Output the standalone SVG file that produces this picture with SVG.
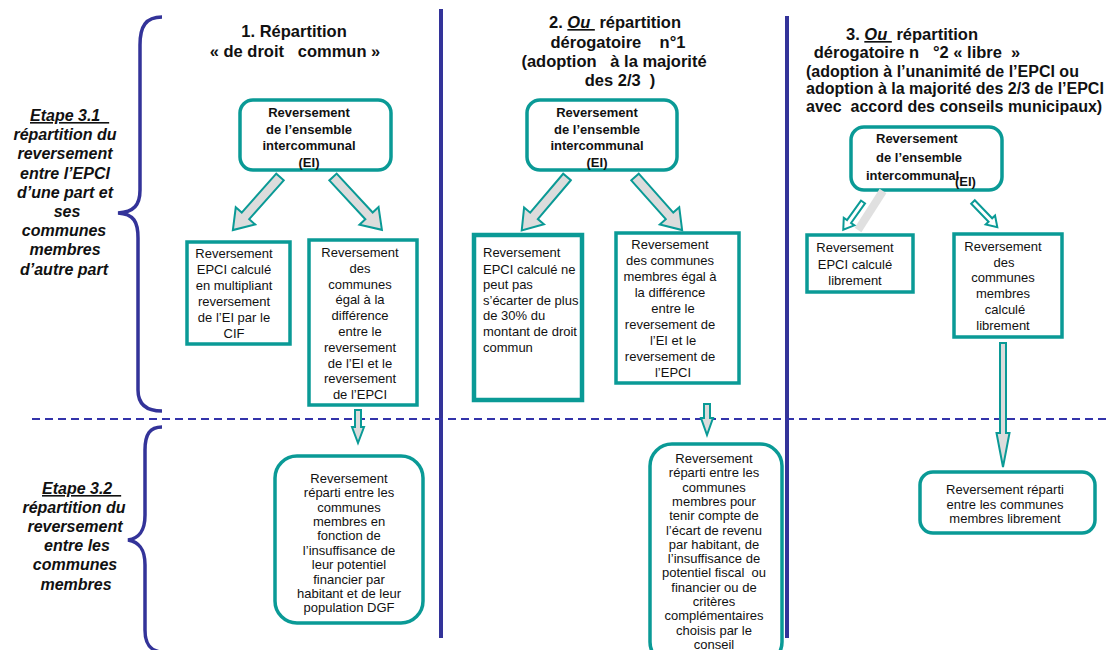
<svg xmlns="http://www.w3.org/2000/svg" width="1106" height="650" viewBox="0 0 1106 650">
<style>
text{font-family:"Liberation Sans",Arial,sans-serif;fill:#111;white-space:pre}
.title{font-size:16.5px;font-weight:bold;text-anchor:middle}
.title3{font-size:16px;font-weight:bold}
.etape{font-size:16px;font-weight:bold;font-style:italic;text-anchor:middle}
.bold13{font-size:13px;font-weight:bold;text-anchor:middle}
.reg13{font-size:13px;text-anchor:middle}
.reg13l{font-size:13px}
.box{fill:#fff;stroke:#0a9a96;stroke-width:3.5}
.rbox{fill:#fff;stroke:#0a9a96;stroke-width:3.5}
.barrow{fill:#dcdcdc;stroke:#0a9a96;stroke-width:2;stroke-linejoin:miter}
.oarrow{fill:#fff;stroke:#0a9a96;stroke-width:2}
.brace{fill:none;stroke:#333399;stroke-width:3.5}
.vline{stroke:#333399;stroke-width:4}
.dash{stroke:#3333aa;stroke-width:2;stroke-dasharray:8,5}
</style>

<g id="separators">
<line class="vline" x1="441" y1="9" x2="441" y2="638"/>
<line class="vline" x1="787" y1="16" x2="787" y2="638"/>
<line class="dash" x1="32" y1="419" x2="1106" y2="419"/>
<path class="brace" d="M162,17 C146,17 140,26 140,45 L140,190 C140,205 134,212 118,213 C134,214 138,222 138,238 L138,390 C138,404 146,411 162,411"/>
<path class="brace" d="M162,427 C150,427 145,434 145,450 L145,515 C145,530 140,538 128,540 C140,542 145,550 145,565 L145,630 C145,644 150,650 160,652"/>
</g>

<g id="label-etape31">
<text class="etape" x="30" y="121" style="text-anchor:start;text-decoration:underline" xml:space="preserve">Etape 3.1  </text>
<text class="etape" x="65" y="140.2">répartition du</text>
<text class="etape" x="65" y="159.4">reversement</text>
<text class="etape" x="65" y="178.6">entre l’EPCI</text>
<text class="etape" x="65" y="197.8">d’une part et</text>
<text class="etape" x="67" y="217">ses</text>
<text class="etape" x="64" y="236.2">communes</text>
<text class="etape" x="65" y="255.4">membres</text>
<text class="etape" x="64" y="274.6">d’autre part</text>
</g>

<g id="label-etape32">
<text class="etape" x="42" y="494" style="text-anchor:start;text-decoration:underline" xml:space="preserve">Etape 3.2  </text>
<text class="etape" x="74" y="513">répartition du</text>
<text class="etape" x="75" y="532">reversement</text>
<text class="etape" x="77" y="551">entre les</text>
<text class="etape" x="75" y="570">communes</text>
<text class="etape" x="76" y="590">membres</text>
</g>

<g id="title-1">
<text class="title" x="294" y="37">1. Répartition</text>
<text class="title" x="295" y="57" xml:space="preserve">« de droit   commun »</text>
</g>

<g id="title-2">
<text class="title" x="615" y="28">2. <tspan font-style="italic" text-decoration="underline">Ou </tspan> répartition</text>
<text class="title" x="618" y="48" xml:space="preserve">dérogatoire    n°1</text>
<text class="title" x="614" y="67" xml:space="preserve">(adoption   à la majorité</text>
<text class="title" x="620" y="86" xml:space="preserve">des 2/3  )</text>
</g>

<g id="title-3">
<text class="title" x="912" y="40">3. <tspan font-style="italic" text-decoration="underline">Ou </tspan> répartition</text>
<text class="title" x="917" y="58" xml:space="preserve">dérogatoire n   °2 « libre  »</text>
<text class="title3" x="806" y="77">(adoption à l’unanimité de l’EPCI ou</text>
<text class="title3" x="806" y="94">adoption à la majorité des 2/3 de l’EPCI</text>
<text class="title3" x="806" y="112" xml:space="preserve">avec  accord des conseils municipaux)</text>
</g>

<g id="node-ei-1">
<rect class="rbox" x="240" y="100" width="151" height="70" rx="13"/>
<text class="bold13" x="309" y="117">Reversement</text>
<text class="bold13" x="309" y="133.5">de l’ensemble</text>
<text class="bold13" x="309" y="150">intercommunal</text>
<text class="bold13" x="309" y="167">(EI)</text>
</g>

<g id="node-epci-1">
<rect class="box" x="187" y="242" width="103" height="102"/>
<text class="reg13" x="234" y="258">Reversement</text>
<text class="reg13" x="234" y="274">EPCI calculé</text>
<text class="reg13" x="234" y="290">en multipliant</text>
<text class="reg13" x="234" y="306">reversement</text>
<text class="reg13" x="234" y="322">de l’EI par le</text>
<text class="reg13" x="234" y="338">CIF</text>
</g>

<g id="node-communes-1">
<rect class="box" x="309" y="240" width="108" height="165"/>
<text class="reg13" x="360" y="257">Reversement</text>
<text class="reg13" x="360" y="272.8">des</text>
<text class="reg13" x="360" y="288.6">communes</text>
<text class="reg13" x="360" y="304.4">égal à la</text>
<text class="reg13" x="360" y="320.2">différence</text>
<text class="reg13" x="360" y="336">entre le</text>
<text class="reg13" x="360" y="351.8">reversement</text>
<text class="reg13" x="360" y="367.6">de l’EI et le</text>
<text class="reg13" x="360" y="383.4">reversement</text>
<text class="reg13" x="360" y="399.2">de l’EPCI</text>
</g>

<g id="node-repartition-1">
<rect class="rbox" x="275" y="456" width="148" height="167" rx="22"/>
<text class="reg13" x="349" y="482.7">Reversement</text>
<text class="reg13" x="349" y="497.1">réparti entre les</text>
<text class="reg13" x="349" y="511.5">communes</text>
<text class="reg13" x="349" y="525.9">membres en</text>
<text class="reg13" x="349" y="540.3">fonction de</text>
<text class="reg13" x="349" y="554.7">l’insuffisance de</text>
<text class="reg13" x="349" y="569.1">leur potentiel</text>
<text class="reg13" x="349" y="583.5">financier par</text>
<text class="reg13" x="349" y="597.9">habitant et de leur</text>
<text class="reg13" x="349" y="612.3">population DGF</text>
</g>

<g id="node-ei-2">
<rect class="rbox" x="527" y="100" width="150" height="70" rx="13"/>
<text class="bold13" x="597" y="117">Reversement</text>
<text class="bold13" x="597" y="133.5">de l’ensemble</text>
<text class="bold13" x="597" y="150">intercommunal</text>
<text class="bold13" x="597" y="167">(EI)</text>
</g>

<g id="node-epci-2">
<rect class="box" x="474" y="235" width="108" height="165" style="stroke-width:4.5"/>
<text class="reg13l" x="483" y="257">Reversement</text>
<text class="reg13l" x="483" y="274">EPCI calculé ne</text>
<text class="reg13l" x="483" y="288.5">peut pas</text>
<text class="reg13l" x="483" y="304.5">s’écarter de plus</text>
<text class="reg13l" x="483" y="320">de 30% du</text>
<text class="reg13l" x="483" y="335.5">montant de droit</text>
<text class="reg13l" x="483" y="351.5">commun</text>
</g>

<g id="node-communes-2">
<rect class="box" x="616" y="233" width="123" height="150"/>
<text class="reg13" x="670" y="248.5">Reversement</text>
<text class="reg13" x="670" y="264.5">des communes</text>
<text class="reg13" x="670" y="280.5">membres égal à</text>
<text class="reg13" x="670" y="296.5">la différence</text>
<text class="reg13" x="673" y="312.5">entre le</text>
<text class="reg13" x="670" y="328.5">reversement de</text>
<text class="reg13" x="673" y="344.5">l’EI et le</text>
<text class="reg13" x="670" y="360.5">reversement de</text>
<text class="reg13" x="673" y="376.5">l’EPCI</text>
</g>

<g id="node-repartition-2">
<rect class="rbox" x="650" y="444" width="132" height="220" rx="22"/>
<text class="reg13" x="714" y="463">Reversement</text>
<text class="reg13" x="714" y="477.3">réparti entre les</text>
<text class="reg13" x="714" y="491.6">communes</text>
<text class="reg13" x="714" y="505.9">membres pour</text>
<text class="reg13" x="714" y="520.2">tenir compte de</text>
<text class="reg13" x="714" y="534.5">l’écart de revenu</text>
<text class="reg13" x="714" y="548.8">par habitant, de</text>
<text class="reg13" x="714" y="563.1">l’insuffisance de</text>
<text class="reg13" x="714" y="577.4" xml:space="preserve">potentiel fiscal  ou</text>
<text class="reg13" x="714" y="591.7">financier ou de</text>
<text class="reg13" x="714" y="606">critères</text>
<text class="reg13" x="714" y="620.3">complémentaires</text>
<text class="reg13" x="714" y="634.6">choisis par le</text>
<text class="reg13" x="714" y="648.9">conseil</text>
</g>

<g id="node-ei-3">
<rect class="rbox" x="851" y="127" width="151" height="63" rx="13"/>
<text class="bold13" x="876" y="143" style="text-anchor:start">Reversement</text>
<text class="bold13" x="876" y="161.5" style="text-anchor:start">de l’ensemble</text>
<text class="bold13" x="866" y="180" style="text-anchor:start">intercommunal</text>
<text class="bold13" x="955" y="186" style="text-anchor:start">(EI)</text>
</g>

<g id="node-epci-3">
<rect class="box" x="807" y="235" width="106" height="57"/>
<text class="reg13" x="855" y="252">Reversement</text>
<text class="reg13" x="855" y="268.5">EPCI calculé</text>
<text class="reg13" x="855" y="284.5">librement</text>
</g>

<g id="node-communes-3">
<rect class="box" x="954" y="234" width="108" height="103"/>
<text class="reg13" x="1003" y="250.5">Reversement</text>
<text class="reg13" x="1004" y="266.5">des</text>
<text class="reg13" x="1003" y="282">communes</text>
<text class="reg13" x="1003" y="298">membres</text>
<text class="reg13" x="1005" y="314">calculé</text>
<text class="reg13" x="1003" y="330">librement</text>
</g>

<g id="node-repartition-3">
<rect class="rbox" x="920" y="472" width="175" height="61" rx="13"/>
<text class="reg13" x="1005" y="494">Reversement réparti</text>
<text class="reg13" x="1005" y="508.5">entre les communes</text>
<text class="reg13" x="1005" y="523">membres librement</text>
</g>

<g id="connectors">
<polygon class="barrow" transform="translate(280,177) rotate(131.6)" points="0,-5 52,-5 52,-13 71,0 52,13 52,5 0,5"/>
<polygon class="barrow" transform="translate(333,177) rotate(47.2)" points="0,-5 53,-5 53,-13 72,0 53,13 53,5 0,5"/>
<polygon class="barrow" transform="translate(567,177) rotate(130.3)" points="0,-5 51,-5 51,-13 70,0 51,13 51,5 0,5"/>
<polygon class="barrow" transform="translate(635,177) rotate(48.4)" points="0,-5 52,-5 52,-13 71,0 52,13 52,5 0,5"/>
<line x1="883" y1="191" x2="858" y2="230" stroke="#e0e0e0" stroke-width="8"/>
<polygon class="oarrow" transform="translate(863,202) rotate(125.5)" points="0,-2.5 24,-2.5 24,-6.5 34,0 24,6.5 24,2.5 0,2.5"/>
<polygon class="oarrow" transform="translate(973,202) rotate(46)" points="0,-2.5 25,-2.5 25,-6.5 35,0 25,6.5 25,2.5 0,2.5"/>
<polygon class="barrow" points="355,410 361,410 361,427 364,427 358,443 352,427 355,427"/>
<polygon class="barrow" points="704,404 710,404 710,418 713,418 707,435 701,418 704,418"/>
<polygon class="barrow" points="1000,343 1006,343 1006,433 1009.5,433 1003,467 996.5,433 1000,433"/>
</g>
</svg>
